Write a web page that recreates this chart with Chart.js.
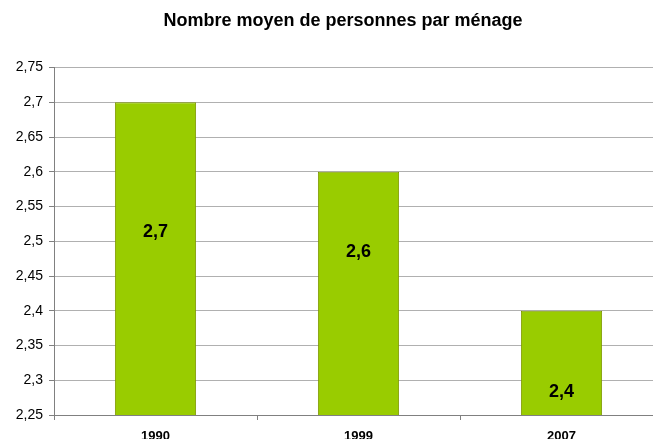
<!DOCTYPE html>
<html>
<head>
<meta charset="utf-8">
<script src="https://cdn.jsdelivr.net/npm/chart.js@4"></script>
<style>
  html, body { margin: 0; padding: 0; background: #fff; overflow: hidden; }
  #wrap { position: absolute; left: 0; top: 0; width: 686px; height: 460px; }
</style>
</head>
<body>
<div id="wrap"><canvas id="menageChart"></canvas></div>
<script>
// data
const years = ["1990", "1999", "2007"];
const personsPerHousehold = [2.7, 2.6, 2.4];
const yMin = 2.25;
const yMax = 2.75;
const yStep = 0.05;

const fmt = (v) => String(Math.round(v * 100) / 100).replace(".", ",");

// labels inside the bars (y position in data units, like the original sheet)
const barLabels = {
  id: "barLabels",
  beforeDraw(chart) {
    // center the title over the whole canvas, not only the plot
    chart.titleBlock.left = 0;
    chart.titleBlock.right = chart.width;
  },
  afterDatasetsDraw(chart, args, opts) {
    const ctx = chart.ctx;
    const meta = chart.getDatasetMeta(0);
    const y = chart.scales.y;
    ctx.save();
    ctx.font = "bold 18px 'Liberation Sans', Arial, sans-serif";
    ctx.fillStyle = "#000";
    ctx.textAlign = "center";
    ctx.textBaseline = "middle";
    meta.data.forEach(function (bar, i) {
      ctx.fillText(fmt(personsPerHousehold[i]), bar.x, y.getPixelForValue(opts.at[i]));
    });
    ctx.restore();
  },
};

const ctx = document.getElementById("menageChart").getContext("2d");
const menageChart = new Chart(ctx, {
  type: "bar",
  data: {
    labels: years,
    datasets: [
      {
        data: personsPerHousehold,
        backgroundColor: "#99cc00",
        borderColor: "#7f9900",
        borderWidth: 1,
        borderSkipped: false,
        barPercentage: 0.4,
        categoryPercentage: 1,
      },
    ],
  },
  options: {
    responsive: true,
    maintainAspectRatio: false,
    animation: false,
    layout: { padding: { left: 0, right: 23, top: 0, bottom: 0 } },
    scales: {
      y: {
        min: yMin,
        max: yMax,
        afterFit(scale) { scale.width = 54; },
        ticks: {
          stepSize: yStep,
          padding: 6,
          color: "#000",
          font: { family: "'Liberation Sans', Arial, sans-serif", size: 14 },
          callback: (v) => fmt(v),
        },
        grid: { color: "#b0b0b0", tickColor: "#808080", tickLength: 5 },
        border: { color: "#808080", width: 1 },
      },
      x: {
        afterFit(scale) { scale.height = 45; },
        ticks: {
          padding: 9,
          color: "#000",
          font: { family: "'Liberation Sans', Arial, sans-serif", size: 13, weight: "bold" },
        },
        grid: { drawOnChartArea: false, color: "#808080", tickLength: 5, offset: true },
        border: { color: "#808080", width: 1 },
      },
    },
    plugins: {
      legend: { display: false },
      tooltip: { enabled: false },
      title: {
        display: true,
        text: "Nombre moyen de personnes par ménage",
        color: "#000",
        font: { family: "'Liberation Sans', Arial, sans-serif", size: 18, weight: "bold" },
        padding: { top: 10, bottom: 36 },
      },
      barLabels: { at: [2.514, 2.485, 2.283] },
    },
  },
  plugins: [barLabels],
});
</script>
</body>
</html>
